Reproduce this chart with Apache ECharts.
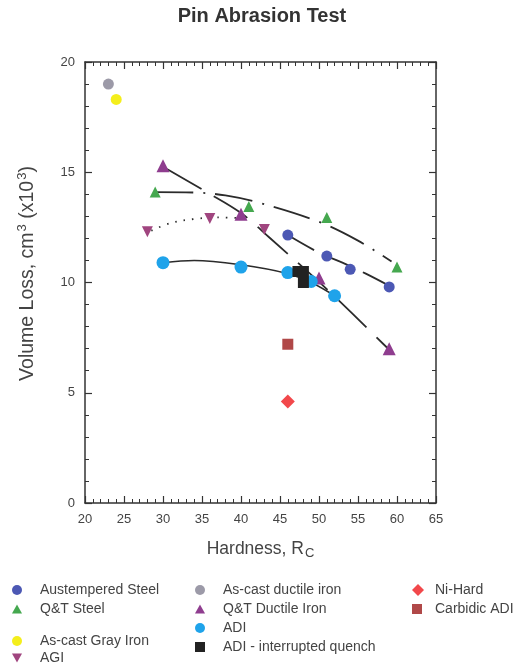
<!DOCTYPE html>
<html>
<head>
<meta charset="utf-8">
<script src="https://cdn.jsdelivr.net/npm/echarts@6/dist/echarts.min.js"></script>
<style>
html,body{margin:0;padding:0;background:#fff;}
#c{width:527px;height:666px;}
</style>
</head>
<body>
<div id="c"></div>
<script>
// Tick labels
const xTicks = [20, 25, 30, 35, 40, 45, 50, 55, 60, 65];
const yTicks = [0, 5, 10, 15, 20];

// Measured points [hardness Rc, volume loss]
const austemperedSteel = [[46, 12.15], [51, 11.2], [54, 10.6], [59, 9.8]];
const qtSteel = [[29, 14.1], [41, 13.45], [51, 12.95], [60, 10.7]];
const asCastGrayIron = [[24, 18.3]];
const agi = [[28, 12.3], [36, 12.9], [43, 12.4]];
const asCastDuctileIron = [[23, 19.0]];
const qtDuctileIron = [[30, 15.3], [40, 13.1], [50, 10.2], [59, 7.0]];
const adi = [[30, 10.9], [40, 10.7], [46, 10.45], [49, 10.05], [52, 9.4]];
const adiInterrupted = [[47.3, 10.5], [48, 10.5], [48, 10.0]];
const niHard = [[46, 4.6]];
const carbidicAdi = [[46, 7.2]];

// Trend curves
const austFit = [[46, 12.15], [50, 11.35], [53, 10.9], [56, 10.4], [59, 9.85]];
const qtSteelFit = [[29, 14.1], [34, 14.08], [38, 13.95], [42.5, 13.6], [50, 12.75], [55, 11.9], [59.3, 10.95]];
const agiFit = [[28.5, 12.35], [31, 12.7], [34, 12.88], [37, 12.95], [41, 12.9]];
const qtDuctileFit = [[30.5, 15.15], [35.6, 14.1], [40, 13.15], [43.6, 12.05], [51, 9.7], [59, 6.95]];
const adiFit = [[30, 10.9], [34, 11.0], [40, 10.8], [46, 10.4], [49, 10.0], [52, 9.4]];

// Legend columns
const legendCol1 = ['Austempered Steel', 'Q&T Steel', 'As-cast Gray Iron', 'AGI'];
const legendCol2 = ['As-cast ductile iron', 'Q&T Ductile Iron', 'ADI', 'ADI - interrupted quench'];
const legendCol3 = ['Ni-Hard', 'Carbidic ADI'];

const FONT = '"Liberation Sans", Arial, sans-serif';
const downTri = 'path://M0,0 L10,0 L5,9 Z';
const upTri = 'path://M5,0 L10,9 L0,9 Z';

function sc(name, data, symbol, size, color) {
  return { name, type: 'scatter', data, symbol, symbolSize: size, itemStyle: { color, opacity: 1 }, z: 5 };
}
function fit(data, type, width) {
  return {
    type: 'line', data, smooth: 0.35, symbol: 'none', silent: true, z: 3,
    lineStyle: { color: '#2b2b2b', width: width || 1.6, type: type, cap: 'butt' }
  };
}

const chart = echarts.init(document.getElementById('c'), null, { renderer: 'canvas' });

const axisCommon = {
  type: 'value',
  axisLine: { show: true, onZero: false, lineStyle: { color: '#333', width: 1.5 } },
  axisTick: { show: true, inside: true, length: 7, lineStyle: { color: '#333', width: 1.2 } },
  minorTick: { show: true, splitNumber: 5, length: 4, lineStyle: { color: '#333', width: 1 } },
  splitLine: { show: false },
  minorSplitLine: { show: false }
};

function leg(name, left, centerY, padLeft, size) {
  return {
    orient: 'vertical', itemWidth: size || 10, itemHeight: size || 10, selectedMode: false, padding: 0,
    left: left, top: centerY - 6, data: [name],
    textStyle: { fontFamily: FONT, fontSize: 14, color: '#444', padding: [0, 0, 0, padLeft] }
  };
}
const col1Y = [589, 608, 640, 657];
const col2Y = [589, 608, 627, 646];
const legends = [];
legendCol1.forEach((n, i) => legends.push(leg(n, 12, col1Y[i], 13)));
legendCol2.forEach((n, i) => legends.push(leg(n, 195, col2Y[i], 13)));
legendCol3.forEach((n, i) => legends.push(leg(n, 412, col2Y[i], i === 0 ? 6 : 8, i === 0 ? 12 : 10)));

chart.setOption({
  animation: false,
  backgroundColor: '#fff',
  title: {
    text: 'Pin Abrasion Test', left: 257, top: 1, textAlign: 'center',
    textStyle: { fontFamily: FONT, fontSize: 20, fontWeight: 'bold', color: '#333' }
  },
  grid: { left: 85, right: 91, top: 62, bottom: 163, containLabel: false },
  xAxis: [
    Object.assign({}, axisCommon, {
      position: 'bottom', min: xTicks[0], max: xTicks[xTicks.length - 1], interval: 5,
      axisLabel: { show: true, fontFamily: FONT, fontSize: 13, color: '#444', margin: 10 },
      name: 'Hardness, R{sub|C}', nameLocation: 'middle', nameGap: 35,
      nameTextStyle: {
        fontFamily: FONT, fontSize: 17.5, color: '#444',
        rich: { sub: { fontFamily: FONT, fontSize: 13, color: '#444', padding: [9, 0, 0, 1] } }
      }
    }),
    Object.assign({}, axisCommon, {
      position: 'top', min: xTicks[0], max: xTicks[xTicks.length - 1], interval: 5,
      axisLabel: { show: false }
    })
  ],
  yAxis: [
    Object.assign({}, axisCommon, {
      position: 'left', min: yTicks[0], max: yTicks[yTicks.length - 1], interval: 5,
      axisLabel: { show: true, fontFamily: FONT, fontSize: 13, color: '#444', margin: 10 },
      name: 'Volume Loss, cm{sup|3} (x10{sup|3})', nameLocation: 'middle', nameGap: 45, nameRotate: 90,
      nameTextStyle: {
        fontFamily: FONT, fontSize: 19.5, color: '#444', padding: [0, 0, 0, 18],
        rich: { sup: { fontFamily: FONT, fontSize: 13, color: '#444', padding: [0, 0, 11, 1] } }
      }
    }),
    Object.assign({}, axisCommon, {
      position: 'right', min: yTicks[0], max: yTicks[yTicks.length - 1], interval: 5,
      axisLabel: { show: false }
    })
  ],
  legend: legends,
  series: [
    fit(agiFit, [1.5, 7], 1.8),
    fit(qtSteelFit, [38, 10, 2, 10], 1.8),
    fit(qtDuctileFit, [40, 14], 1.8),
    fit(austFit, [30, 12], 1.8),
    fit(adiFit, 'solid', 1.5),
    sc('Austempered Steel', austemperedSteel, 'circle', 11, '#4c58b4'),
    sc('Q&T Steel', qtSteel, upTri, 11, '#45a84f'),
    sc('As-cast Gray Iron', asCastGrayIron, 'circle', 11, '#f4ee1c'),
    sc('AGI', agi, downTri, 11, '#a0457f'),
    sc('As-cast ductile iron', asCastDuctileIron, 'circle', 11, '#9c9aa8'),
    sc('Q&T Ductile Iron', qtDuctileIron, upTri, 13, '#8f3d8f'),
    sc('ADI', adi, 'circle', 13, '#1fa3ea'),
    sc('ADI - interrupted quench', adiInterrupted, 'rect', 11, '#222222'),
    sc('Ni-Hard', niHard, 'diamond', 14, '#f2484b'),
    sc('Carbidic ADI', carbidicAdi, 'rect', 11, '#b04848')
  ]
});
</script>
</body>
</html>
